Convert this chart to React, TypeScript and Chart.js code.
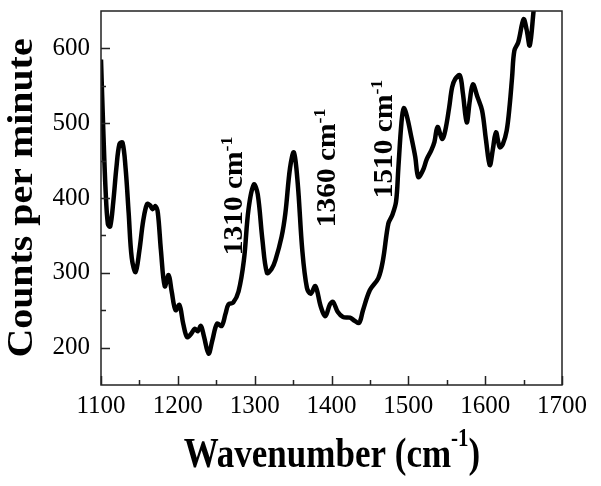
import { useEffect, useRef } from "react";
import { Chart, registerables } from "chart.js";

Chart.register(...registerables);

// ---- data ----
const wavenumbers = [
  1100, 1103, 1106, 1109, 1112, 1116, 1120, 1124, 1128, 1132, 1136, 1140, 1145, 1150, 1155, 1160,
  1164, 1167, 1171, 1174, 1178, 1183, 1188, 1192, 1197, 1202, 1207, 1212, 1217, 1222, 1226, 1230,
  1234, 1240, 1245, 1251, 1257, 1262, 1266, 1272, 1279, 1286, 1292, 1299, 1304, 1310, 1316, 1322,
  1327, 1335, 1340, 1346, 1351, 1356, 1362, 1368, 1373, 1379, 1386, 1392, 1398, 1402, 1408, 1415,
  1424, 1430, 1436, 1441, 1450, 1461, 1467, 1474, 1479, 1484, 1487, 1491, 1494, 1498, 1504, 1509,
  1513, 1519, 1524, 1530, 1534, 1538, 1544, 1548, 1553, 1557, 1561, 1567, 1571, 1576, 1580, 1584,
  1590, 1596, 1601, 1606, 1610, 1614, 1619, 1623, 1628, 1632, 1635, 1638, 1643, 1650, 1654, 1658,
  1663, 1667,
];
const counts = [
  585, 490, 410, 365, 362, 395, 440, 472, 474, 440, 380, 320, 301, 330, 370, 392,
  390, 385, 389, 380, 330, 282, 297, 275, 250, 257, 232, 214, 218, 225, 222, 229,
  215, 192, 210, 232, 229, 245, 258, 260, 275, 317, 385, 418, 405, 345, 300, 305,
  317, 348, 380, 440, 461, 420, 330, 280, 272, 282, 255, 242, 258, 261, 248, 241,
  240, 236, 233, 250, 277, 293, 317, 366, 377, 395, 440, 500, 520, 510, 481, 455,
  428, 437, 452, 464, 475, 495, 479, 490, 520, 548, 559, 564, 540, 501, 530, 552,
  535, 517, 478, 444, 465, 488, 468, 472, 490, 525, 561, 597, 608, 639, 625, 604,
  650, 690,
];

const xTickValues = [1100, 1200, 1300, 1400, 1500, 1600, 1700];
const xMinorValues = [1150, 1250, 1350, 1450, 1550, 1650];
const yTickValues = [200, 300, 400, 500, 600];
const yMinorValues = [250, 350, 450, 550];

const peakLabels = ["1310", "1360", "1510"];
const peakLabelX = [1283.6, 1404.7, 1478.9];
const peakLabelY = [323.6, 361, 399.6];

const xTitle = "Wavenumber (cm";
const xTitleAfter = ")";
const yTitle = "Counts per minute";
const unitText = " cm";
const supText = "-1";

const SERIF = '"Liberation Serif", "Times New Roman", serif';

function drawWithSup(
  ctx: CanvasRenderingContext2D,
  x: number,
  base: string,
  sup: string,
  after: string,
  size: number,
  supSize: number,
  raise: number,
  measureOnly = false
) {
  ctx.font = `bold ${size}px ${SERIF}`;
  const w1 = ctx.measureText(base).width;
  ctx.font = `bold ${supSize}px ${SERIF}`;
  const w2 = ctx.measureText(sup).width;
  ctx.font = `bold ${size}px ${SERIF}`;
  const w3 = after ? ctx.measureText(after).width : 0;
  const total = w1 + w2 + w3;
  if (measureOnly) return total;
  ctx.textAlign = "left";
  ctx.textBaseline = "alphabetic";
  ctx.font = `bold ${size}px ${SERIF}`;
  ctx.fillText(base, x, 0);
  ctx.font = `bold ${supSize}px ${SERIF}`;
  ctx.fillText(sup, x + w1, -raise);
  if (after) {
    ctx.font = `bold ${size}px ${SERIF}`;
    ctx.fillText(after, x + w1 + w2, 0);
  }
  return total;
}

const decorPlugin = {
  id: "decor",
  afterDraw(chart: any) {
    const { ctx, chartArea, scales } = chart;
    const xs = scales.x;
    const ys = scales.y;
    const { left, right, top, bottom } = chartArea;
    ctx.save();
    ctx.strokeStyle = "#222";
    ctx.lineWidth = 1.5;
    ctx.strokeRect(left, top, right - left, bottom - top);

    // inward ticks
    ctx.lineWidth = 1.5;
    ctx.beginPath();
    xTickValues.forEach((v) => {
      const p = Math.round(xs.getPixelForValue(v)) + 0.5;
      ctx.moveTo(p, bottom);
      ctx.lineTo(p, bottom - 9);
    });
    xMinorValues.forEach((v) => {
      const p = Math.round(xs.getPixelForValue(v)) + 0.5;
      ctx.moveTo(p, bottom);
      ctx.lineTo(p, bottom - 5);
    });
    yTickValues.forEach((v) => {
      const p = Math.round(ys.getPixelForValue(v)) + 0.5;
      ctx.moveTo(left, p);
      ctx.lineTo(left + 9, p);
    });
    yMinorValues.forEach((v) => {
      const p = Math.round(ys.getPixelForValue(v)) + 0.5;
      ctx.moveTo(left, p);
      ctx.lineTo(left + 5, p);
    });
    ctx.stroke();

    ctx.fillStyle = "#000";
    // peak annotations (vertical)
    peakLabels.forEach((lab, i) => {
      const px = xs.getPixelForValue(peakLabelX[i]);
      const py = ys.getPixelForValue(peakLabelY[i]);
      ctx.save();
      ctx.translate(px, py);
      ctx.rotate(-Math.PI / 2);
      ctx.scale(1.05, 1);
      drawWithSup(ctx, 0, lab + unitText, supText, "", 28, 17, 10);
      ctx.restore();
    });

    // x title
    ctx.save();
    ctx.translate(332, 466.7);
    ctx.scale(1, 1.2);
    const tw = drawWithSup(ctx, 0, xTitle, supText, xTitleAfter, 35, 21, 17, true) as number;
    drawWithSup(ctx, -tw / 2, xTitle, supText, xTitleAfter, 35, 21, 17);
    ctx.restore();

    // y title
    ctx.save();
    ctx.translate(32, 198);
    ctx.rotate(-Math.PI / 2);
    ctx.scale(1.14, 1);
    ctx.font = `bold 35px ${SERIF}`;
    ctx.textAlign = "center";
    ctx.textBaseline = "alphabetic";
    ctx.fillText(yTitle, 0, 0);
    ctx.restore();

    ctx.restore();
  },
};

export default function App() {
  const ref = useRef<HTMLCanvasElement | null>(null);
  useEffect(() => {
    document.body.style.margin = "0";
    const canvas = ref.current;
    if (!canvas) return;
    const chart = new Chart(canvas, {
      type: "line",
      data: {
        datasets: [
          {
            data: wavenumbers.map((w, i) => ({ x: w, y: counts[i] })),
            borderColor: "#000",
            borderWidth: 4.5,
            pointRadius: 0,
            tension: 0.35,
            fill: false,
          },
        ],
      },
      options: {
        responsive: false,
        animation: false,
        devicePixelRatio: 1,
        layout: { padding: { top: 11, right: 39, left: 0, bottom: 0 } },
        plugins: { legend: { display: false }, tooltip: { enabled: false } },
        scales: {
          x: {
            type: "linear",
            min: 1100,
            max: 1700,
            grid: { display: false, drawTicks: false },
            border: { display: false },
            afterBuildTicks: (s: any) => {
              s.ticks = xTickValues.map((v) => ({ value: v }));
            },
            afterFit: (s: any) => {
              s.height = 101;
              s.paddingLeft = 0;
              s.paddingRight = 0;
            },
            ticks: {
              color: "#000",
              padding: 6,
              maxRotation: 0,
              font: { family: SERIF, size: 25 },
              callback: (v: any) => String(v),
            },
          },
          y: {
            type: "linear",
            min: 150,
            max: 650,
            grid: { display: false, drawTicks: false },
            border: { display: false },
            afterBuildTicks: (s: any) => {
              s.ticks = yTickValues.map((v) => ({ value: v }));
            },
            afterFit: (s: any) => {
              s.width = 101;
              s.paddingTop = 0;
              s.paddingBottom = 0;
            },
            ticks: {
              color: "#000",
              padding: 11,
              font: { family: SERIF, size: 25 },
              callback: (v: any) => String(v),
            },
          },
        },
      },
      plugins: [decorPlugin],
    });
    return () => chart.destroy();
  }, []);
  return (
    <div style={{ width: 601, height: 486 }}>
      <canvas ref={ref} width={601} height={486} style={{ display: "block" }} />
    </div>
  );
}
